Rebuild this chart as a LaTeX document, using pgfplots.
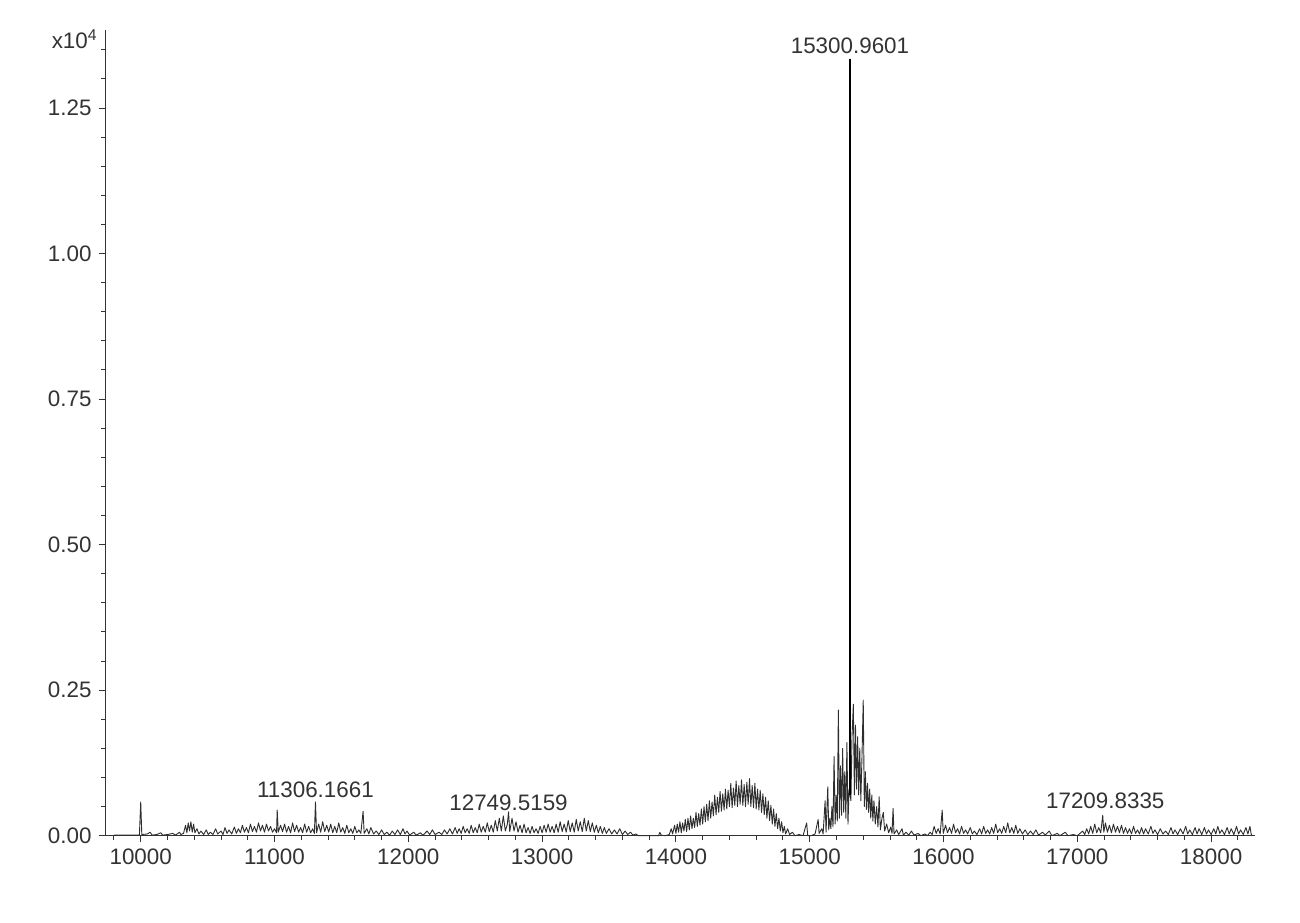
\documentclass[border=0pt]{standalone}
\usepackage{pgfplots}
\pgfplotsset{compat=1.18}
\usepackage{fontspec}
\setmainfont{Liberation Sans}
\begin{document}
\begin{tikzpicture}[x=1pt,y=1pt]
\path[use as bounding box] (0,0) rectangle (650,461);
\begin{axis}[
  at={(52.5pt,43.15pt)}, anchor=south west,
  scale only axis, width=575pt, height=402.85pt,
  xmin=9733, xmax=18328, ymin=0, ymax=1.384,
  axis x line=bottom, axis y line=left,
  axis line style={-, black!80, line width=0.5pt},
  clip=false,
  tick align=outside,
  major tick length=3.2pt, minor tick length=2pt,
  every tick/.style={black!80, line width=0.5pt},
  xtick={10000,11000,12000,13000,14000,15000,16000,17000,18000},
  minor xtick={9800,10200,10400,10600,10800,11200,11400,11600,11800,12200,12400,12600,12800,13200,13400,13600,13800,14200,14400,14600,14800,15200,15400,15600,15800,16200,16400,16600,16800,17200,17400,17600,17800,18200},
  ytick={0,0.25,0.5,0.75,1,1.25},
  minor ytick={0.05,0.1,0.15,0.2,0.3,0.35,0.4,0.45,0.55,0.6,0.65,0.7,0.8,0.85,0.9,0.95,1.05,1.1,1.15,1.2,1.3,1.35},
  scaled x ticks=false, scaled y ticks=false,
  xticklabel style={/pgf/number format/.cd, assume math mode=true, set thousands separator={}},
  yticklabel style={/pgf/number format/.cd, assume math mode=true, fixed, fixed zerofill, precision=2},
  ticklabel style={font=\fontsize{11.2}{13}\selectfont, text=black!80},
]
\addplot[black!82, line width=0.45pt, line join=round, mark=none] coordinates {
(9800,0.001) (9900,0.001) (9990,0.001) (10000,0.058) (10008,0.002) (10050,0.003) (10070,0.006) (10085,0.001) (10120,0.002) (10150,0.005) (10165,0.001) (10200,0.002) (10240,0.004) (10260,0.001) (10290,0.006) (10300,0.002)
(10320,0.004) (10335,0.018) (10345,0.005) (10355,0.022) (10365,0.008) (10375,0.024) (10385,0.006) (10395,0.02) (10405,0.005) (10420,0.012) (10435,0.003) (10450,0.008) (10470,0.002) (10490,0.010) (10505,0.002) (10520,0.006) (10540,0.002) (10560,0.012) (10575,0.003) (10600,0.008) (10615,0.002) (10630,0.014) (10645,0.004) (10660,0.01) (10680,0.003) (10700,0.015) (10715,0.004) (10730,0.012) (10745,0.005) (10760,0.018) (10775,0.006) (10790,0.014) (10805,0.005) (10820,0.02) (10835,0.007) (10850,0.016) (10865,0.006) (10880,0.022) (10895,0.008) (10910,0.018) (10925,0.006) (10940,0.02) (10955,0.008) (10970,0.016) (10985,0.006) (11000,0.012) (11015,0.005) (11020,0.044) (11028,0.006) (11045,0.018) (11060,0.007) (11075,0.02) (11090,0.006) (11105,0.016) (11120,0.005) (11135,0.022) (11150,0.007) (11165,0.018) (11180,0.006) (11195,0.014) (11210,0.005) (11225,0.02) (11240,0.006) (11255,0.016) (11270,0.005) (11285,0.012) (11298,0.004) (11306,0.058) (11314,0.005) (11330,0.02) (11345,0.006) (11360,0.024) (11375,0.007) (11390,0.018) (11405,0.006) (11420,0.02) (11435,0.005) (11450,0.016) (11465,0.005) (11480,0.022) (11495,0.006) (11510,0.014) (11525,0.004) (11540,0.018) (11555,0.005) (11570,0.012) (11585,0.004) (11600,0.016) (11615,0.005) (11630,0.01) (11645,0.004) (11662,0.042) (11670,0.004) (11690,0.012) (11705,0.003) (11720,0.014) (11740,0.003) (11760,0.008) (11780,0.002) (11800,0.01) (11820,0.002) (11840,0.006) (11860,0.001) (11880,0.008) (11900,0.002) (11920,0.01) (11940,0.002) (11960,0.012) (11975,0.003) (11990,0.008) (12010,0.001) (12040,0.006) (12060,0.001) (12090,0.005) (12110,0.001) (12140,0.008) (12160,0.002) (12180,0.01) (12200,0.002) (12230,0.006) (12250,0.002) (12270,0.01) (12290,0.003) (12310,0.012) (12330,0.003) (12350,0.014) (12365,0.004) (12380,0.012) (12395,0.004) (12410,0.016) (12425,0.005) (12440,0.012) (12455,0.004) (12470,0.018) (12485,0.005) (12500,0.014) (12515,0.005) (12530,0.02) (12545,0.006) (12560,0.016) (12575,0.006) (12590,0.022) (12605,0.007) (12620,0.018) (12635,0.006) (12650,0.026) (12665,0.008) (12680,0.03) (12695,0.008) (12710,0.034) (12725,0.008) (12740,0.02) (12749,0.041) (12758,0.007) (12775,0.03) (12790,0.008) (12805,0.024) (12820,0.006) (12835,0.018) (12850,0.005) (12865,0.02) (12880,0.005) (12895,0.014) (12910,0.004) (12925,0.016) (12940,0.005) (12955,0.012) (12970,0.004) (12985,0.016) (13000,0.005) (13015,0.018) (13030,0.006) (13045,0.02) (13060,0.006) (13075,0.016) (13090,0.005) (13105,0.02) (13120,0.006) (13135,0.024) (13150,0.007) (13165,0.02) (13180,0.006) (13195,0.026) (13210,0.007) (13225,0.022) (13240,0.006) (13255,0.028) (13270,0.008) (13285,0.024) (13300,0.007) (13315,0.03) (13330,0.008) (13345,0.026) (13360,0.007) (13375,0.022) (13390,0.006) (13405,0.018) (13420,0.005) (13435,0.016) (13450,0.004) (13465,0.014) (13480,0.004) (13500,0.012) (13520,0.003) (13540,0.01) (13560,0.003) (13580,0.012) (13600,0.002) (13620,0.008) (13640,0.002) (13660,0.006) (13680,0.001) (13700,0.003) (13720,0.0) (13800,0.0) (13870,0.0) (13880,0.006) (13890,0.001) (13920,0.0)
(13950,0.002) (13965,0.012) (13975,0.003) (13990,0.018) (14000,0.004) (14010,0.02) (14020,0.006) (14030,0.024) (14040,0.005) (14050,0.022) (14060,0.008) (14070,0.028) (14080,0.007) (14090,0.03) (14100,0.01) (14110,0.034) (14120,0.012) (14130,0.03) (14140,0.014) (14150,0.04) (14160,0.016) (14170,0.038) (14180,0.018) (14190,0.046) (14200,0.02) (14210,0.05) (14220,0.024) (14230,0.054) (14240,0.026) (14250,0.06) (14260,0.03) (14270,0.058) (14280,0.034) (14290,0.07) (14300,0.036) (14310,0.066) (14320,0.04) (14330,0.076) (14340,0.042) (14350,0.072) (14360,0.044) (14370,0.08) (14380,0.046) (14390,0.078) (14400,0.05) (14410,0.09) (14420,0.048) (14430,0.082) (14440,0.052) (14450,0.094) (14460,0.05) (14470,0.086) (14480,0.054) (14490,0.096) (14500,0.052) (14510,0.088) (14520,0.05) (14530,0.092) (14540,0.054) (14550,0.098) (14560,0.05) (14570,0.086) (14580,0.048) (14590,0.09) (14600,0.046) (14610,0.08) (14620,0.044) (14630,0.078) (14640,0.04) (14650,0.072) (14660,0.036) (14670,0.066) (14680,0.03) (14690,0.06) (14700,0.026) (14710,0.052) (14720,0.02) (14730,0.046) (14740,0.016) (14750,0.038) (14760,0.012) (14770,0.03) (14780,0.008) (14790,0.024) (14800,0.005) (14810,0.016) (14820,0.003) (14835,0.012) (14850,0.002) (14870,0.006) (14890,0.0)
(14920,0.002) (14950,0.0) (14977,0.022) (14985,0.0) (15010,0.0) (15040,0.003) (15063,0.028) (15070,0.004) (15090,0.012) (15100,0.003) (15115,0.06) (15122,0.006) (15135,0.084) (15142,0.01)
(15150,0.03) (15158,0.012) (15166,0.05) (15174,0.015) (15182,0.136) (15190,0.02) (15198,0.07) (15206,0.025) (15214,0.216) (15222,0.03) (15230,0.12) (15238,0.035) (15246,0.15) (15254,0.04) (15262,0.11) (15270,0.03) (15278,0.16) (15286,0.02) (15294,0.08) (15300,0.07) (15301,1.334) (15302,0.07) (15308,0.06) (15316,0.17) (15326,0.226) (15334,0.07) (15342,0.19) (15350,0.08) (15358,0.17) (15366,0.07) (15374,0.15) (15382,0.06) (15390,0.13) (15400,0.233) (15408,0.05) (15416,0.11) (15424,0.045) (15432,0.09) (15440,0.04) (15448,0.08) (15456,0.03) (15464,0.07) (15472,0.025) (15480,0.06) (15490,0.02) (15500,0.05) (15510,0.015) (15519,0.067) (15528,0.01) (15540,0.03) (15550,0.04) (15560,0.008) (15575,0.02) (15590,0.005) (15605,0.015) (15615,0.004) (15623,0.047) (15630,0.003) (15650,0.01) (15665,0.002) (15690,0.012) (15700,0.001)
(15720,0.006) (15740,0.001) (15760,0.008) (15780,0.001) (15810,0.004) (15830,0.0) (15860,0.003) (15880,0.0) (15900,0.006) (15915,0.002) (15930,0.016) (15945,0.004) (15960,0.012) (15975,0.003) (15990,0.044) (15998,0.004) (16015,0.018) (16030,0.005) (16045,0.014) (16060,0.004) (16075,0.02) (16090,0.005) (16105,0.012) (16120,0.003) (16135,0.016) (16150,0.004) (16165,0.01) (16180,0.003) (16200,0.014) (16215,0.003) (16230,0.008) (16250,0.002) (16270,0.012) (16285,0.003) (16300,0.016) (16315,0.004) (16330,0.01) (16345,0.003) (16360,0.014) (16375,0.004) (16390,0.02) (16405,0.005) (16420,0.012) (16435,0.004) (16450,0.016) (16465,0.005) (16480,0.022) (16495,0.005) (16510,0.014) (16525,0.004) (16540,0.018) (16555,0.004) (16570,0.012) (16590,0.003) (16610,0.01) (16630,0.002) (16650,0.008) (16670,0.002) (16690,0.01) (16710,0.001) (16740,0.006) (16760,0.001) (16790,0.008) (16810,0.0) (16850,0.004) (16870,0.0) (16910,0.006) (16930,0.0) (16970,0.002) (17000,0.0) (17020,0.004) (17040,0.008) (17055,0.002) (17070,0.012) (17085,0.003) (17100,0.016) (17115,0.004) (17130,0.02) (17145,0.005) (17160,0.014) (17175,0.005) (17190,0.035) (17198,0.006) (17210,0.022) (17225,0.006) (17240,0.018) (17255,0.005) (17270,0.02) (17285,0.006) (17300,0.016) (17315,0.005) (17330,0.018) (17345,0.004) (17360,0.014) (17375,0.004) (17390,0.012) (17405,0.003) (17420,0.016) (17435,0.004) (17450,0.01) (17465,0.003) (17480,0.014) (17495,0.003) (17510,0.012) (17530,0.003) (17550,0.016) (17565,0.004) (17580,0.01) (17600,0.002) (17620,0.012) (17640,0.003) (17660,0.008) (17680,0.002) (17700,0.014) (17715,0.003) (17730,0.01) (17750,0.002) (17770,0.012) (17790,0.003) (17810,0.016) (17825,0.003) (17840,0.01) (17860,0.002) (17880,0.014) (17895,0.003) (17910,0.012) (17930,0.002) (17950,0.014) (17965,0.003) (17980,0.01) (18000,0.002) (18020,0.012) (18035,0.003) (18050,0.016) (18065,0.004) (18080,0.01) (18100,0.002) (18120,0.014) (18135,0.003) (18150,0.012) (18170,0.002) (18190,0.016) (18205,0.003) (18220,0.01) (18240,0.002) (18260,0.014) (18275,0.003) (18290,0.016) (18300,0.002) (18310,0.0)
};
\addplot[black, line width=0.9pt, mark=none] coordinates {(15301,0.07) (15301,1.334)};
\begin{scope}[every node/.style={font=\fontsize{11.2}{13}\selectfont, text=black!80, inner sep=0pt}]
\node[anchor=base] at (axis cs:15301,1.343) {15300.9601};
\node[anchor=base] at (axis cs:11306,0.066) {11306.1661};
\node[anchor=base] at (axis cs:12749,0.044) {12749.5159};
\node[anchor=base] at (axis cs:17209,0.046) {17209.8335};
\node[anchor=base east] at (axis cs:9733,1.353) [xshift=-3.5pt] {x10\textsuperscript{4}};
\end{scope}
\end{axis}
\end{tikzpicture}
\end{document}
